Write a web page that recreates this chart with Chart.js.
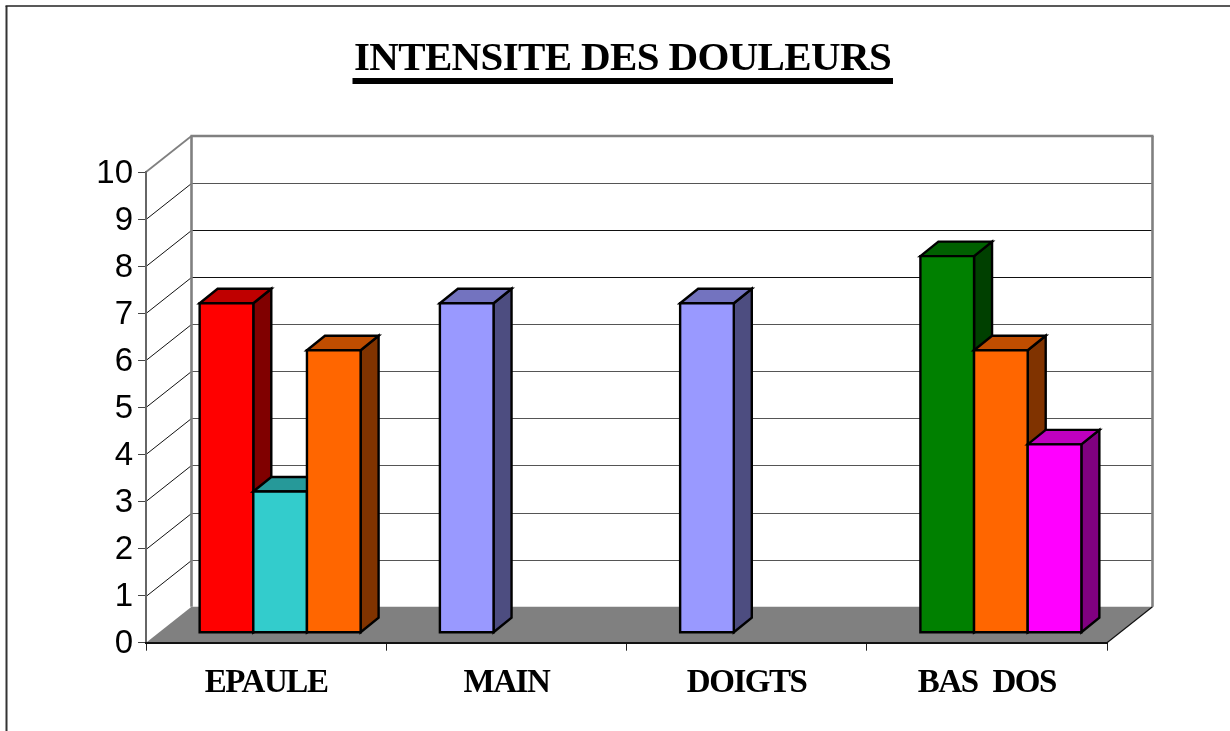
<!DOCTYPE html>
<html><head><meta charset="utf-8">
<style>html,body{margin:0;padding:0;background:#fff}canvas{display:block}</style>
<script src="https://cdn.jsdelivr.net/npm/chart.js@4"></script>
</head><body>
<div style="width:1230px;height:731px"><canvas id="c" width="1230" height="731"></canvas></div>
<script>
const titleText = 'INTENSITE DES DOULEURS';
const categories = ['EPAULE', 'MAIN', 'DOIGTS', 'BAS DOS'];
const seriesA = [7, 7, 7, 8];
const seriesB = [3, null, null, 6];
const seriesC = [6, null, null, 4];
const colorsA = ['#FF0000', '#9999FF', '#9999FF', '#008000'];
const colorsB = ['#33CCCC', '#9999FF', '#9999FF', '#FF6600'];
const colorsC = ['#FF6600', '#9999FF', '#9999FF', '#FF00FF'];
const wallDepth = {dx: 45.5, dy: -36};
const barShift = {dx: 14, dy: -10};
const barDepth = {dx: 18, dy: -14.5};

function shade(hex, f) {
  const n = parseInt(hex.slice(1), 16);
  return `rgb(${Math.round((n >> 16 & 255) * f)},${Math.round((n >> 8 & 255) * f)},${Math.round((n & 255) * f)})`;
}
function poly(ctx, pts, fill, stroke, lw) {
  ctx.beginPath();
  pts.forEach((p, i) => i ? ctx.lineTo(p[0], p[1]) : ctx.moveTo(p[0], p[1]));
  ctx.closePath();
  if (fill) { ctx.fillStyle = fill; ctx.fill(); }
  if (stroke) { ctx.strokeStyle = stroke; ctx.lineWidth = lw; ctx.lineJoin = 'miter'; ctx.stroke(); }
}
function line(ctx, x1, y1, x2, y2, color, lw) {
  ctx.beginPath(); ctx.moveTo(x1, y1); ctx.lineTo(x2, y2);
  ctx.strokeStyle = color; ctx.lineWidth = lw; ctx.stroke();
}
const textStyle = (obj, name, letter, word, dy) => {
  const orig = obj[name];
  obj[name] = function (...a) {
    const ctx = this.ctx;
    ctx.save();
    ctx.letterSpacing = letter; ctx.wordSpacing = word;
    ctx.translate(0, dy);
    orig.apply(this, a);
    ctx.restore();
  };
};
const scene3d = {
  id: 'scene3d',
  afterLayout(chart) {
    // centre the title on the whole page rather than on the padded area
    chart.titleBlock.left = 0;
    chart.titleBlock.right = 1245;
  },
  beforeDraw(chart) {
    if (!chart.$wrapped) {
      chart.$wrapped = true;
      textStyle(chart.scales.x, 'drawLabels', '-1.45px', '8px', 0);
      textStyle(chart.scales.y, 'drawLabels', '0px', '0px', 1.5);
      textStyle(chart.titleBlock, 'draw', '-0.65px', '0px', 3);
    }
    const ctx = chart.ctx, {x, y} = chart.scales, a = chart.chartArea;
    const d = wallDepth, y0 = y.getPixelForValue(0), yT = y.getPixelForValue(10);
    ctx.save();
    // page frame
    line(ctx, 6.5, 6, 6.5, 731, '#333', 2);
    line(ctx, 5.5, 6, 1230, 6, '#222', 1.6);
    // floor
    poly(ctx, [[a.left, y0], [a.right, y0], [a.right + d.dx, y0 + d.dy], [a.left + d.dx, y0 + d.dy]], '#808080');
    // gridlines on the walls
    for (let v = 1; v < 10; v++) {
      const py = Math.round(y.getPixelForValue(v)) + 0.5;
      line(ctx, a.left, py, a.left + d.dx, py + d.dy, '#111', 1);
      line(ctx, a.left + d.dx, py + d.dy, a.right + d.dx, py + d.dy, (v === 7 || v === 8) ? '#111' : '#555', 1.2);
    }
    // wall outlines
    line(ctx, a.left + d.dx, y0 + d.dy, a.left + d.dx, yT + d.dy, '#808080', 2.6);
    line(ctx, a.left + d.dx - 1, yT + d.dy, a.right + d.dx + 1, yT + d.dy, '#808080', 2.6);
    line(ctx, a.right + d.dx, yT + d.dy, a.right + d.dx, y0 + d.dy, '#808080', 2.6);
    line(ctx, a.left, yT, a.left + d.dx, yT + d.dy, '#808080', 1.8);
    line(ctx, a.right, y0, a.right + d.dx, y0 + d.dy, '#111', 1.2);
    ctx.restore();
  },
  beforeDatasetsDraw(chart) {
    const ctx = chart.ctx, b = barDepth;
    ctx.save();
    ctx.translate(barShift.dx, barShift.dy);
    chart.data.datasets.forEach((ds, di) => {
      const meta = chart.getDatasetMeta(di);
      meta.data.forEach((el, i) => {
        if (ds.data[i] == null) return;
        const p = el.getProps(['x', 'y', 'base', 'width'], true);
        const l = p.x - p.width / 2, r = p.x + p.width / 2, t = p.y, bt = p.base;
        const col = ds.backgroundColor[i];
        poly(ctx, [[r, bt], [r + b.dx, bt + b.dy], [r + b.dx, t + b.dy], [r, t]], shade(col, 0.5), '#000', 2.4);
        poly(ctx, [[l, t], [l + b.dx, t + b.dy], [r + b.dx, t + b.dy], [r, t]], shade(col, 0.75), '#000', 2.4);
        el.draw(ctx, chart.chartArea);
        poly(ctx, [[l, t], [r, t], [r, bt], [l, bt]], null, '#000', 2.4);
      });
    });
    ctx.restore();
    return false;
  },
  afterDraw(chart) {
    const ctx = chart.ctx;
    ctx.save();
    ctx.fillStyle = '#000';
    ctx.fillRect(352.5, 78, 540.5, 6);
    ctx.restore();
  }
};
const mkSet = (label, data, colors) => ({
  label, data, backgroundColor: colors, borderWidth: 0, borderSkipped: false, clip: false,
  categoryPercentage: 0.67, barPercentage: 1
});
new Chart(document.getElementById('c'), {
  type: 'bar',
  plugins: [scene3d],
  data: {
    labels: categories,
    datasets: [mkSet('A', seriesA, colorsA), mkSet('B', seriesB, colorsB), mkSet('C', seriesC, colorsC)]
  },
  options: {
    responsive: false,
    animation: false,
    layout: {padding: {left: 0, right: 123, top: 0, bottom: 0}},
    plugins: {
      legend: {display: false},
      tooltip: {enabled: false},
      title: {
        display: true, text: titleText, color: '#000', align: 'center',
        font: {family: 'Liberation Serif', size: 41, weight: 'bold'},
        padding: {top: 32, bottom: 90.8}, fullSize: true
      }
    },
    scales: {
      y: {
        min: 0, max: 10,
        afterFit: s => { s.width = 146; },
        ticks: {stepSize: 1, color: '#000', padding: 5, font: {family: 'Liberation Sans', size: 33}},
        grid: {drawOnChartArea: false, drawTicks: true, tickLength: 8, color: '#444', lineWidth: 1},
        border: {color: '#666', width: 2}
      },
      x: {
        afterFit: s => { s.height = 88.3; },
        ticks: {color: '#000', padding: 13, maxRotation: 0, font: {family: 'Liberation Serif', size: 33, weight: 'bold'}},
        grid: {drawOnChartArea: false, drawTicks: true, tickLength: 8, color: '#222', lineWidth: 1},
        border: {color: '#111', width: 2}
      }
    }
  }
});
</script>
</body></html>
